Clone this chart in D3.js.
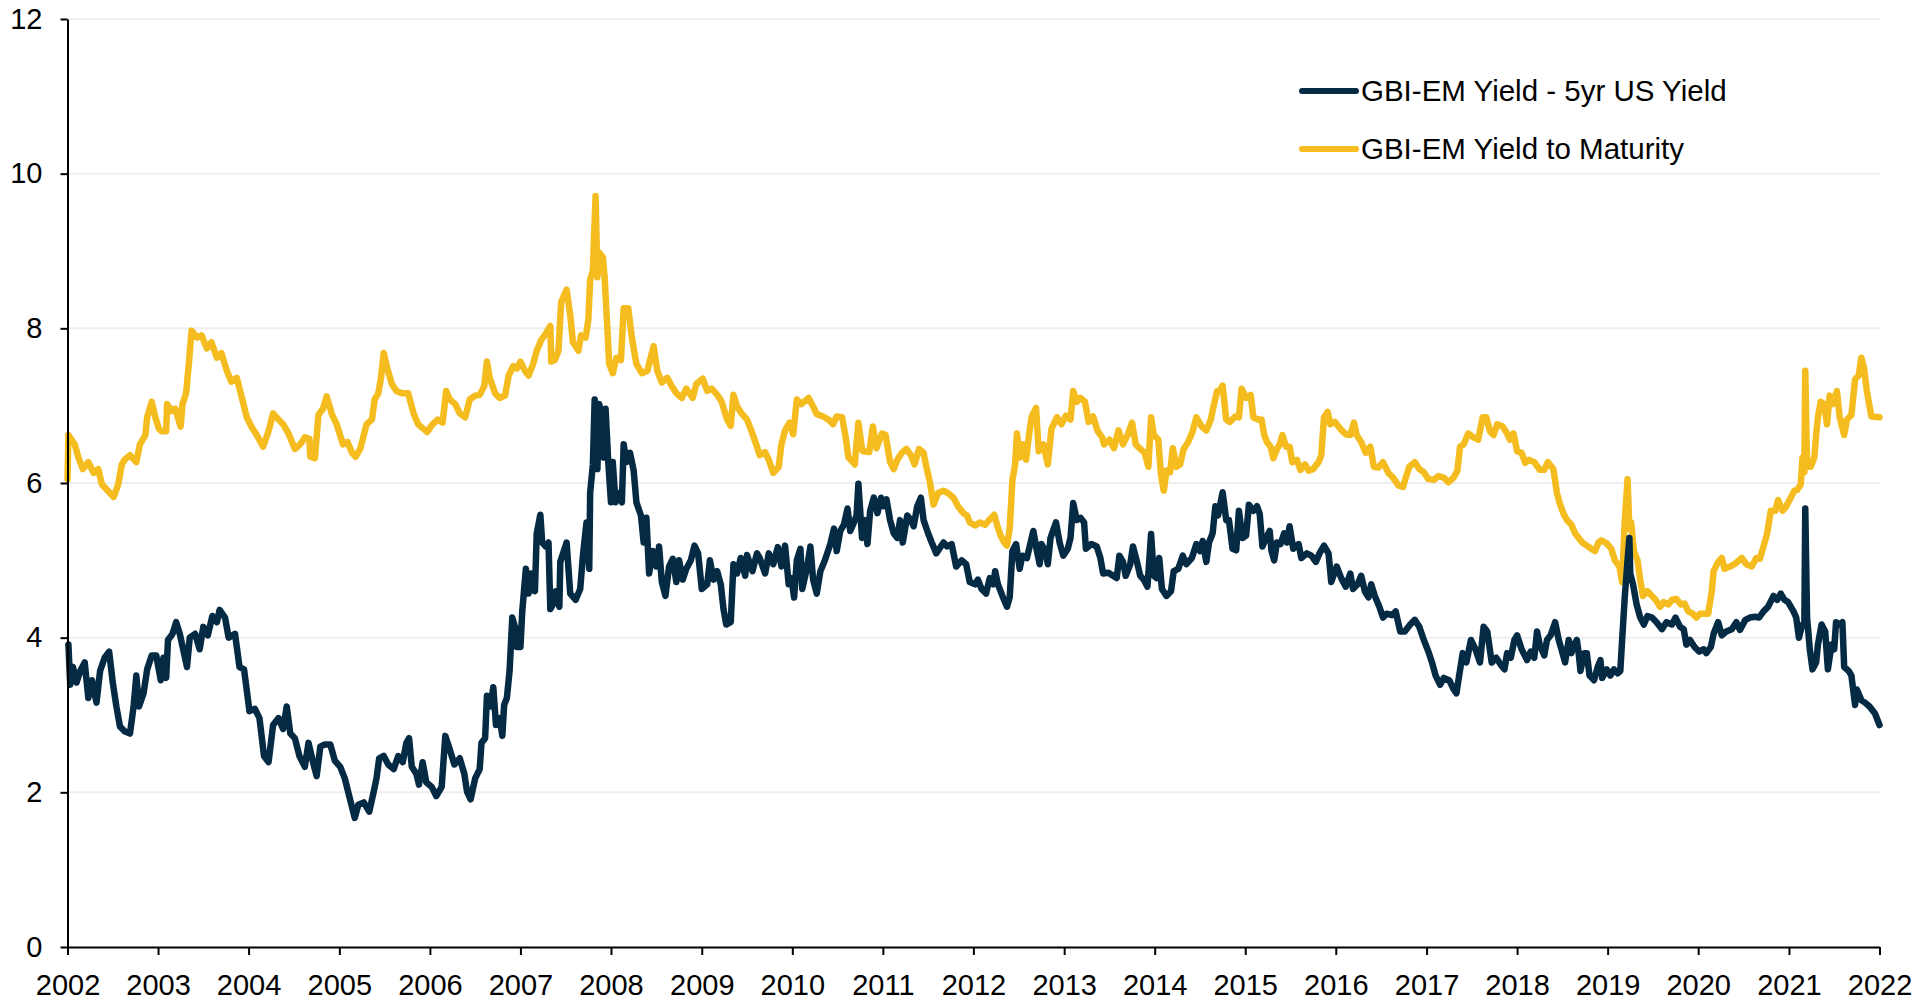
<!DOCTYPE html>
<html>
<head>
<meta charset="utf-8">
<script src="https://cdn.jsdelivr.net/npm/d3@7"></script>
<style>
body { margin: 0; background: #fff; }
svg text { font-family: "Liberation Sans", Arial, sans-serif; fill: #000; }
</style>
</head>
<body>
<script>
// series names for the legend
const seriesNames = ["GBI-EM Yield - 5yr US Yield", "GBI-EM Yield to Maturity"];
const seriesColors = ["#052a44", "#f4bc1e"];

// tick labels
const yearTicks = d3.range(2002, 2023);
const yTicks = [0, 2, 4, 6, 8, 10, 12];

// [decimal year, value]
const spread = [
[2002.01,3.91],[2002.03,3.39],[2002.06,3.62],[2002.10,3.42],[2002.14,3.57],[2002.19,3.68],[2002.23,3.22],[2002.27,3.45],[2002.32,3.16],[2002.36,3.57],
[2002.41,3.74],[2002.46,3.82],[2002.50,3.42],[2002.54,3.11],[2002.58,2.85],[2002.63,2.79],[2002.69,2.76],[2002.73,3.11],[2002.76,3.51],[2002.79,3.11],
[2002.84,3.28],[2002.88,3.59],[2002.93,3.77],[2002.98,3.77],[2003.03,3.45],[2003.06,3.74],[2003.09,3.48],[2003.11,3.97],[2003.16,4.05],[2003.20,4.20],
[2003.24,4.05],[2003.32,3.62],[2003.35,4.00],[2003.41,4.05],[2003.46,3.85],[2003.50,4.14],[2003.55,4.03],[2003.60,4.28],[2003.65,4.20],[2003.68,4.36],
[2003.74,4.26],[2003.78,4.00],[2003.85,4.05],[2003.90,3.62],[2003.95,3.59],[2004.01,3.05],[2004.07,3.08],[2004.12,2.96],[2004.17,2.47],[2004.22,2.39],
[2004.27,2.87],[2004.33,2.96],[2004.38,2.82],[2004.42,3.11],[2004.46,2.76],[2004.51,2.70],[2004.56,2.47],[2004.62,2.33],[2004.66,2.64],[2004.71,2.39],
[2004.75,2.21],[2004.79,2.59],[2004.84,2.62],[2004.90,2.62],[2004.95,2.41],[2005.01,2.33],[2005.06,2.18],[2005.12,1.90],[2005.17,1.67],[2005.21,1.84],
[2005.27,1.87],[2005.33,1.75],[2005.38,2.01],[2005.41,2.18],[2005.44,2.44],[2005.49,2.47],[2005.54,2.36],[2005.60,2.30],[2005.65,2.47],[2005.70,2.39],
[2005.74,2.64],[2005.77,2.70],[2005.80,2.33],[2005.85,2.24],[2005.88,2.10],[2005.92,2.39],[2005.96,2.13],[2006.02,2.07],[2006.07,1.95],[2006.13,2.07],
[2006.17,2.73],[2006.21,2.59],[2006.27,2.36],[2006.33,2.44],[2006.38,2.24],[2006.41,2.01],[2006.45,1.91],[2006.50,2.18],[2006.55,2.30],[2006.57,2.64],
[2006.61,2.70],[2006.63,3.25],[2006.67,3.11],[2006.70,3.36],[2006.73,2.87],[2006.77,2.96],[2006.80,2.73],[2006.82,3.13],[2006.85,3.22],[2006.88,3.57],
[2006.91,4.26],[2006.94,4.14],[2006.96,3.88],[2007.00,3.88],[2007.02,4.34],[2007.06,4.89],[2007.09,4.57],[2007.12,4.83],[2007.16,4.60],[2007.18,5.35],
[2007.22,5.59],[2007.24,5.23],[2007.28,5.18],[2007.31,5.23],[2007.33,4.37],[2007.36,4.43],[2007.39,4.60],[2007.43,4.40],[2007.44,4.98],[2007.51,5.23],
[2007.55,4.57],[2007.61,4.49],[2007.66,4.63],[2007.69,5.06],[2007.73,5.49],[2007.76,4.89],[2007.77,5.87],[2007.80,6.24],[2007.82,7.08],[2007.85,6.18],
[2007.87,7.02],[2007.90,6.85],[2007.92,6.33],[2007.94,6.96],[2007.97,6.27],[2008.00,5.75],[2008.02,6.27],[2008.05,5.75],[2008.09,5.87],[2008.12,5.75],
[2008.14,6.50],[2008.17,6.27],[2008.21,6.39],[2008.25,6.16],[2008.28,5.75],[2008.33,5.58],[2008.36,5.23],[2008.39,5.55],[2008.42,4.83],[2008.46,5.12],
[2008.50,4.92],[2008.53,5.18],[2008.56,4.72],[2008.60,4.54],[2008.64,4.92],[2008.68,5.02],[2008.72,4.72],[2008.75,5.00],[2008.79,4.75],[2008.83,4.89],
[2008.88,5.00],[2008.92,5.19],[2008.96,5.09],[2009.00,4.63],[2009.06,4.69],[2009.09,5.00],[2009.13,4.75],[2009.17,4.86],[2009.21,4.69],[2009.24,4.37],
[2009.27,4.17],[2009.32,4.20],[2009.35,4.95],[2009.39,4.83],[2009.43,5.03],[2009.48,4.80],[2009.50,5.07],[2009.56,4.86],[2009.61,5.09],[2009.64,5.03],
[2009.70,4.83],[2009.74,5.09],[2009.79,4.95],[2009.84,5.17],[2009.88,4.92],[2009.92,5.19],[2009.96,4.69],[2009.99,4.77],[2010.02,4.52],[2010.05,5.00],
[2010.09,5.15],[2010.11,4.63],[2010.16,4.89],[2010.20,5.18],[2010.23,4.75],[2010.27,4.57],[2010.31,4.86],[2010.36,5.00],[2010.42,5.21],[2010.46,5.41],
[2010.49,5.12],[2010.53,5.38],[2010.57,5.46],[2010.61,5.67],[2010.64,5.38],[2010.67,5.46],[2010.71,5.58],[2010.73,5.99],[2010.77,5.29],[2010.80,5.52],
[2010.83,5.21],[2010.86,5.64],[2010.90,5.81],[2010.94,5.61],[2010.98,5.81],[2011.01,5.70],[2011.04,5.79],[2011.08,5.52],[2011.12,5.35],[2011.16,5.29],
[2011.19,5.52],[2011.22,5.23],[2011.27,5.58],[2011.31,5.52],[2011.34,5.44],[2011.38,5.70],[2011.42,5.81],[2011.45,5.52],[2011.50,5.35],[2011.54,5.23],
[2011.59,5.09],[2011.67,5.23],[2011.71,5.18],[2011.76,5.21],[2011.81,4.92],[2011.87,5.00],[2011.92,4.95],[2011.96,4.72],[2012.02,4.69],[2012.05,4.75],
[2012.09,4.63],[2012.14,4.57],[2012.18,4.77],[2012.22,4.69],[2012.24,4.86],[2012.27,4.69],[2012.32,4.54],[2012.37,4.40],[2012.40,4.52],[2012.43,5.12],
[2012.47,5.21],[2012.51,4.89],[2012.54,5.06],[2012.59,5.03],[2012.62,5.18],[2012.66,5.38],[2012.70,5.12],[2012.73,4.95],[2012.75,5.21],[2012.79,5.12],
[2012.82,4.95],[2012.85,5.29],[2012.91,5.49],[2012.95,5.23],[2012.99,5.06],[2013.04,5.15],[2013.07,5.29],[2013.10,5.74],[2013.14,5.52],[2013.18,5.55],
[2013.22,5.49],[2013.24,5.15],[2013.30,5.21],[2013.36,5.18],[2013.40,5.03],[2013.43,4.83],[2013.49,4.84],[2013.54,4.80],[2013.58,4.77],[2013.61,5.06],
[2013.65,4.98],[2013.68,4.80],[2013.73,4.95],[2013.76,5.18],[2013.80,5.00],[2013.84,4.80],[2013.88,4.75],[2013.92,4.66],[2013.96,5.34],[2013.99,4.80],
[2014.02,4.77],[2014.05,5.03],[2014.08,4.63],[2014.13,4.54],[2014.18,4.60],[2014.21,4.86],[2014.26,4.89],[2014.31,5.06],[2014.35,4.95],[2014.41,5.03],
[2014.46,5.21],[2014.50,5.12],[2014.53,5.25],[2014.57,4.98],[2014.60,5.23],[2014.64,5.35],[2014.67,5.70],[2014.70,5.58],[2014.75,5.88],[2014.79,5.52],
[2014.82,5.52],[2014.86,5.15],[2014.90,5.13],[2014.93,5.64],[2014.97,5.29],[2015.01,5.32],[2015.04,5.72],[2015.09,5.64],[2015.13,5.70],[2015.16,5.60],
[2015.19,5.18],[2015.23,5.29],[2015.27,5.38],[2015.29,5.12],[2015.32,5.00],[2015.35,5.23],[2015.39,5.21],[2015.43,5.35],[2015.46,5.23],[2015.49,5.44],
[2015.53,5.15],[2015.59,5.21],[2015.62,5.03],[2015.68,5.09],[2015.73,5.06],[2015.78,4.98],[2015.82,5.09],[2015.87,5.19],[2015.92,5.09],[2015.95,4.72],
[2016.01,4.92],[2016.06,4.77],[2016.11,4.66],[2016.16,4.83],[2016.19,4.63],[2016.24,4.69],[2016.28,4.80],[2016.32,4.60],[2016.36,4.52],[2016.39,4.69],
[2016.43,4.54],[2016.48,4.40],[2016.52,4.26],[2016.56,4.31],[2016.62,4.29],[2016.66,4.34],[2016.71,4.08],[2016.76,4.08],[2016.82,4.17],[2016.87,4.23],
[2016.92,4.14],[2016.97,3.97],[2017.02,3.82],[2017.06,3.68],[2017.10,3.51],[2017.15,3.39],[2017.19,3.48],[2017.25,3.45],[2017.30,3.33],[2017.33,3.28],
[2017.36,3.51],[2017.40,3.80],[2017.44,3.68],[2017.49,3.97],[2017.54,3.85],[2017.59,3.68],[2017.63,4.14],[2017.67,4.08],[2017.72,3.68],[2017.77,3.74],
[2017.82,3.65],[2017.86,3.59],[2017.89,3.80],[2017.93,3.74],[2017.97,3.97],[2018.00,4.03],[2018.05,3.85],[2018.11,3.71],[2018.15,3.82],[2018.19,3.74],
[2018.22,4.08],[2018.25,3.91],[2018.30,3.77],[2018.33,3.97],[2018.37,4.03],[2018.42,4.20],[2018.46,3.97],[2018.49,3.85],[2018.53,3.68],[2018.57,3.97],
[2018.60,3.80],[2018.63,3.91],[2018.66,3.97],[2018.68,3.80],[2018.70,3.57],[2018.74,3.80],[2018.77,3.80],[2018.80,3.51],[2018.85,3.45],[2018.89,3.62],
[2018.92,3.71],[2018.94,3.48],[2018.99,3.59],[2019.03,3.51],[2019.07,3.59],[2019.11,3.54],[2019.14,3.57],[2019.16,3.97],[2019.19,4.54],[2019.22,5.00],
[2019.24,5.29],[2019.25,4.83],[2019.28,4.69],[2019.32,4.43],[2019.36,4.26],[2019.40,4.17],[2019.44,4.28],[2019.49,4.26],[2019.54,4.20],[2019.60,4.11],
[2019.65,4.20],[2019.71,4.17],[2019.75,4.26],[2019.80,4.14],[2019.84,4.11],[2019.87,3.91],[2019.91,3.97],[2019.96,3.88],[2020.01,3.82],[2020.06,3.85],
[2020.09,3.80],[2020.14,3.88],[2020.17,4.05],[2020.22,4.20],[2020.26,4.03],[2020.31,4.08],[2020.37,4.11],[2020.42,4.20],[2020.46,4.10],[2020.52,4.23],
[2020.57,4.26],[2020.63,4.27],[2020.67,4.26],[2020.72,4.34],[2020.77,4.40],[2020.83,4.54],[2020.87,4.49],[2020.91,4.57],[2020.95,4.49],[2020.99,4.46],
[2021.05,4.34],[2021.08,4.26],[2021.11,4.00],[2021.14,4.14],[2021.17,4.20],[2021.18,5.67],[2021.20,4.26],[2021.23,3.85],[2021.26,3.59],[2021.30,3.68],
[2021.32,3.91],[2021.36,4.17],[2021.40,4.08],[2021.43,3.59],[2021.47,3.91],[2021.50,3.85],[2021.52,4.20],[2021.56,4.17],[2021.59,4.20],[2021.61,3.62],
[2021.66,3.57],[2021.69,3.51],[2021.73,3.13],[2021.75,3.33],[2021.80,3.19],[2021.84,3.16],[2021.89,3.11],[2021.95,3.02],[2022.00,2.87]
];

const ytm = [
[2002.00,6.05],[2002.01,6.62],[2002.08,6.50],[2002.12,6.33],[2002.17,6.18],[2002.23,6.27],[2002.29,6.13],[2002.34,6.18],[2002.38,5.98],[2002.43,5.92],
[2002.51,5.82],[2002.56,5.98],[2002.60,6.24],[2002.63,6.30],[2002.69,6.36],[2002.76,6.27],[2002.80,6.50],[2002.86,6.62],[2002.88,6.85],[2002.93,7.05],
[2002.97,6.85],[2003.01,6.70],[2003.04,6.67],[2003.09,6.67],[2003.10,7.02],[2003.15,6.93],[2003.19,6.96],[2003.25,6.73],[2003.27,7.02],[2003.31,7.16],
[2003.34,7.54],[2003.37,7.97],[2003.43,7.88],[2003.48,7.91],[2003.54,7.74],[2003.59,7.82],[2003.65,7.62],[2003.70,7.68],[2003.76,7.45],[2003.81,7.31],
[2003.87,7.36],[2003.92,7.13],[2003.98,6.85],[2004.03,6.73],[2004.09,6.62],[2004.16,6.47],[2004.22,6.67],[2004.27,6.90],[2004.33,6.82],[2004.38,6.76],
[2004.44,6.64],[2004.51,6.44],[2004.57,6.50],[2004.62,6.59],[2004.67,6.57],[2004.68,6.34],[2004.73,6.32],[2004.77,6.88],[2004.82,6.96],[2004.86,7.12],
[2004.92,6.88],[2004.97,6.76],[2005.04,6.50],[2005.09,6.53],[2005.14,6.39],[2005.18,6.34],[2005.23,6.44],[2005.27,6.62],[2005.30,6.76],[2005.36,6.82],
[2005.39,7.08],[2005.43,7.16],[2005.46,7.36],[2005.49,7.68],[2005.53,7.48],[2005.58,7.28],[2005.63,7.19],[2005.69,7.16],[2005.76,7.16],[2005.82,6.90],
[2005.87,6.76],[2005.93,6.70],[2005.97,6.66],[2006.03,6.76],[2006.09,6.82],[2006.14,6.78],[2006.18,7.19],[2006.22,7.08],[2006.28,7.02],[2006.33,6.90],
[2006.39,6.85],[2006.44,7.08],[2006.50,7.13],[2006.55,7.14],[2006.60,7.25],[2006.63,7.57],[2006.66,7.36],[2006.72,7.16],[2006.77,7.10],[2006.83,7.13],
[2006.87,7.39],[2006.92,7.51],[2006.96,7.48],[2007.00,7.57],[2007.05,7.45],[2007.09,7.39],[2007.14,7.54],[2007.18,7.71],[2007.23,7.85],[2007.28,7.93],
[2007.33,8.03],[2007.34,7.57],[2007.38,7.59],[2007.42,7.71],[2007.45,8.34],[2007.51,8.50],[2007.55,8.17],[2007.58,7.82],[2007.64,7.71],[2007.67,7.91],
[2007.72,7.88],[2007.75,8.11],[2007.77,8.63],[2007.80,8.75],[2007.83,9.71],[2007.85,8.66],[2007.87,8.98],[2007.91,8.92],[2007.93,8.66],[2007.96,8.00],
[2007.98,7.54],[2008.02,7.42],[2008.06,7.62],[2008.11,7.59],[2008.14,8.26],[2008.19,8.26],[2008.23,7.88],[2008.28,7.54],[2008.34,7.42],[2008.40,7.45],
[2008.47,7.77],[2008.51,7.45],[2008.56,7.30],[2008.62,7.36],[2008.67,7.25],[2008.72,7.16],[2008.78,7.10],[2008.83,7.22],[2008.90,7.10],[2008.94,7.28],
[2009.01,7.35],[2009.06,7.19],[2009.11,7.22],[2009.17,7.14],[2009.22,7.05],[2009.28,6.82],[2009.32,6.74],[2009.35,7.14],[2009.39,6.99],[2009.44,6.90],
[2009.50,6.82],[2009.55,6.67],[2009.61,6.47],[2009.64,6.36],[2009.70,6.40],[2009.74,6.30],[2009.79,6.13],[2009.85,6.21],[2009.88,6.50],[2009.92,6.68],
[2009.97,6.78],[2010.01,6.63],[2010.05,7.08],[2010.10,7.02],[2010.18,7.10],[2010.23,6.99],[2010.27,6.89],[2010.34,6.86],[2010.40,6.82],[2010.45,6.76],
[2010.49,6.86],[2010.55,6.85],[2010.59,6.59],[2010.62,6.33],[2010.67,6.27],[2010.69,6.24],[2010.73,6.78],[2010.77,6.44],[2010.78,6.41],[2010.85,6.40],
[2010.89,6.73],[2010.93,6.45],[2010.99,6.64],[2011.03,6.62],[2011.08,6.27],[2011.12,6.18],[2011.16,6.30],[2011.21,6.39],[2011.26,6.44],[2011.31,6.36],
[2011.35,6.24],[2011.40,6.44],[2011.45,6.39],[2011.48,6.21],[2011.52,6.01],[2011.56,5.72],[2011.61,5.87],[2011.67,5.90],[2011.72,5.87],[2011.78,5.81],
[2011.83,5.70],[2011.89,5.61],[2011.93,5.58],[2011.96,5.49],[2012.02,5.45],[2012.07,5.49],[2012.13,5.46],[2012.18,5.53],[2012.23,5.59],[2012.26,5.46],
[2012.30,5.32],[2012.34,5.23],[2012.37,5.19],[2012.40,5.41],[2012.43,6.04],[2012.46,6.24],[2012.48,6.64],[2012.51,6.33],[2012.55,6.50],[2012.58,6.30],
[2012.61,6.59],[2012.64,6.85],[2012.69,6.97],[2012.72,6.41],[2012.77,6.50],[2012.82,6.24],[2012.86,6.70],[2012.92,6.85],[2012.97,6.76],[2013.02,6.87],
[2013.07,6.82],[2013.10,7.19],[2013.14,7.05],[2013.18,7.10],[2013.23,7.05],[2013.27,6.79],[2013.32,6.86],[2013.37,6.67],[2013.42,6.59],[2013.44,6.50],
[2013.50,6.56],[2013.55,6.45],[2013.60,6.68],[2013.65,6.50],[2013.70,6.62],[2013.75,6.78],[2013.79,6.50],[2013.85,6.43],[2013.89,6.39],[2013.93,6.21],
[2013.96,6.85],[2013.99,6.62],[2014.04,6.56],[2014.07,6.10],[2014.10,5.90],[2014.13,6.16],[2014.17,6.14],[2014.20,6.45],[2014.24,6.21],[2014.28,6.24],
[2014.32,6.44],[2014.37,6.53],[2014.42,6.67],[2014.46,6.85],[2014.52,6.73],[2014.57,6.68],[2014.62,6.82],[2014.65,6.99],[2014.69,7.19],[2014.72,7.19],
[2014.75,7.26],[2014.79,6.82],[2014.83,6.79],[2014.89,6.86],[2014.93,6.85],[2014.96,7.22],[2015.01,7.10],[2015.06,7.14],[2015.09,6.85],[2015.14,6.82],
[2015.18,6.82],[2015.21,6.62],[2015.24,6.53],[2015.28,6.47],[2015.31,6.32],[2015.35,6.44],[2015.38,6.50],[2015.41,6.62],[2015.45,6.47],[2015.49,6.47],
[2015.52,6.27],[2015.57,6.30],[2015.61,6.17],[2015.66,6.24],[2015.70,6.16],[2015.75,6.18],[2015.81,6.27],[2015.84,6.36],[2015.87,6.85],[2015.91,6.92],
[2015.94,6.76],[2015.99,6.79],[2016.05,6.70],[2016.11,6.63],[2016.16,6.62],[2016.20,6.78],[2016.23,6.62],[2016.28,6.53],[2016.33,6.39],[2016.38,6.47],
[2016.42,6.21],[2016.47,6.20],[2016.52,6.27],[2016.58,6.13],[2016.63,6.07],[2016.69,5.97],[2016.74,5.95],[2016.78,6.10],[2016.81,6.21],[2016.87,6.27],
[2016.92,6.18],[2016.97,6.14],[2017.02,6.05],[2017.08,6.04],[2017.13,6.09],[2017.19,6.07],[2017.24,6.01],[2017.30,6.07],[2017.34,6.16],[2017.37,6.47],
[2017.41,6.50],[2017.46,6.64],[2017.52,6.59],[2017.57,6.56],[2017.62,6.85],[2017.66,6.85],[2017.70,6.67],[2017.74,6.62],[2017.78,6.76],[2017.84,6.73],
[2017.89,6.64],[2017.92,6.56],[2017.96,6.64],[2018.00,6.41],[2018.05,6.39],[2018.09,6.26],[2018.13,6.30],[2018.19,6.27],[2018.25,6.17],[2018.30,6.17],
[2018.34,6.27],[2018.40,6.18],[2018.44,5.87],[2018.47,5.74],[2018.51,5.61],[2018.55,5.52],[2018.60,5.46],[2018.64,5.35],[2018.68,5.29],[2018.72,5.23],
[2018.77,5.19],[2018.82,5.15],[2018.86,5.12],[2018.90,5.23],[2018.93,5.26],[2018.99,5.22],[2019.04,5.15],[2019.08,5.00],[2019.13,4.92],[2019.16,4.72],
[2019.19,5.52],[2019.22,6.05],[2019.24,5.41],[2019.26,5.49],[2019.29,5.12],[2019.33,5.00],[2019.36,4.75],[2019.39,4.54],[2019.44,4.60],[2019.49,4.54],
[2019.53,4.49],[2019.58,4.40],[2019.62,4.46],[2019.67,4.43],[2019.71,4.49],[2019.76,4.50],[2019.81,4.43],[2019.85,4.44],[2019.89,4.34],[2019.94,4.31],
[2019.98,4.26],[2020.02,4.31],[2020.06,4.31],[2020.11,4.31],[2020.15,4.60],[2020.17,4.86],[2020.22,4.98],[2020.26,5.03],[2020.29,4.89],[2020.35,4.92],
[2020.40,4.95],[2020.48,5.03],[2020.53,4.95],[2020.59,4.92],[2020.64,5.03],[2020.68,5.02],[2020.72,5.18],[2020.76,5.35],[2020.80,5.64],[2020.85,5.64],
[2020.88,5.78],[2020.93,5.64],[2020.97,5.70],[2021.02,5.81],[2021.06,5.90],[2021.09,5.91],[2021.13,5.98],[2021.15,6.33],[2021.17,6.14],[2021.18,7.45],
[2021.20,6.21],[2021.24,6.21],[2021.28,6.33],[2021.30,6.62],[2021.32,6.85],[2021.35,7.05],[2021.39,7.02],[2021.42,6.76],[2021.45,7.13],[2021.48,7.02],
[2021.53,7.19],[2021.56,6.85],[2021.61,6.62],[2021.64,6.82],[2021.69,6.88],[2021.73,7.34],[2021.77,7.39],[2021.80,7.62],[2021.83,7.48],[2021.86,7.19],
[2021.91,6.86],[2022.00,6.85]
];

const W = 1931, H = 1000;
const plotL = 67.5, plotR = 1879.5, plotT = 19, plotB = 947;

function toDate(v) {
  const yr = Math.floor(v);
  const a = Date.UTC(yr, 0, 1), b = Date.UTC(yr + 1, 0, 1);
  return new Date(a + (v - yr) * (b - a));
}

const svg = d3.select("body").append("svg")
  .attr("width", W).attr("height", H);

const xScale = d3.scaleUtc()
  .domain([toDate(2002), toDate(2022)])
  .range([plotL, plotR]);

const yScale = d3.scaleLinear()
  .domain([0, 12])
  .range([plotB, plotT]);

// gridlines
svg.append("g")
  .selectAll("line")
  .data(yTicks.filter(d => d > 0))
  .join("line")
  .attr("x1", plotL).attr("x2", plotR)
  .attr("y1", d => yScale(d)).attr("y2", d => yScale(d))
  .attr("stroke", "#eeeeee")
  .attr("stroke-width", 2);

const line = d3.line()
  .x(d => xScale(toDate(d[0])))
  .y(d => yScale(d[1]));

svg.append("path")
  .datum(ytm)
  .attr("fill", "none")
  .attr("stroke", seriesColors[1])
  .attr("stroke-width", 6.5)
  .attr("stroke-linejoin", "round")
  .attr("stroke-linecap", "round")
  .attr("d", line);

svg.append("path")
  .datum(spread)
  .attr("fill", "none")
  .attr("stroke", seriesColors[0])
  .attr("stroke-width", 6.5)
  .attr("stroke-linejoin", "round")
  .attr("stroke-linecap", "round")
  .attr("d", line);

// axes
const xAxis = d3.axisBottom(xScale)
  .tickValues(yearTicks.map(d => toDate(d)))
  .tickFormat(d3.utcFormat("%Y"))
  .tickSize(8)
  .tickSizeOuter(0)
  .tickPadding(19);

const yAxis = d3.axisLeft(yScale)
  .tickValues(yTicks)
  .tickFormat(d3.format("d"))
  .tickSize(7)
  .tickSizeOuter(0)
  .tickPadding(18);

const gx = svg.append("g")
  .attr("transform", "translate(0," + plotB + ")")
  .call(xAxis);

const gy = svg.append("g")
  .attr("transform", "translate(" + plotL + ",0)")
  .call(yAxis);

[gx, gy].forEach(g => {
  g.select(".domain").attr("stroke", "#000").attr("stroke-width", 2);
  g.selectAll(".tick line").attr("stroke", "#000").attr("stroke-width", 2);
  g.selectAll(".tick text")
    .attr("font-size", 29)
    .attr("font-family", "Liberation Sans, Arial, sans-serif")
    .attr("fill", "#000");
});

// legend
const legend = svg.append("g");
seriesNames.forEach((name, i) => {
  const ly = 91 + i * 58;
  legend.append("line")
    .attr("x1", 1302).attr("x2", 1356)
    .attr("y1", ly).attr("y2", ly)
    .attr("stroke", seriesColors[i])
    .attr("stroke-width", 6)
    .attr("stroke-linecap", "round");
  legend.append("text")
    .attr("x", 1361).attr("y", ly + 9.5)
    .attr("font-size", 29.5)
    .text(name);
});
</script>
</body>
</html>
